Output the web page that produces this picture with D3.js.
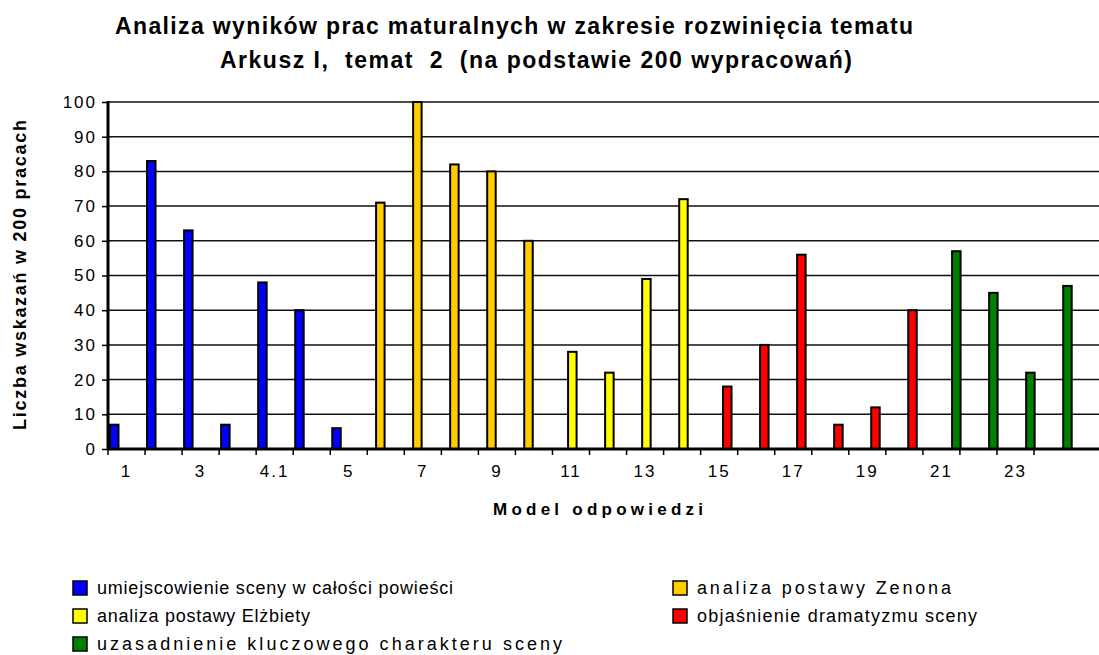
<!DOCTYPE html>
<html>
<head>
<meta charset="utf-8">
<script src="https://cdn.jsdelivr.net/npm/d3@7"></script>
<style>
  body { margin: 0; background: #fff; }
  svg { font-family: 'Liberation Sans', Arial, sans-serif; display: block; }
</style>
</head>
<body>
<div id="chart"></div>
<script>
// categories on the x axis (Model odpowiedzi)
const categories = ['1', '2', '3', '4', '4.1', '4.2', '5', '6', '7', '8', '9', '10', '11', '12',
  '13', '14', '15', '16', '17', '18', '19', '20', '21', '22', '23', '24']
const shownLabels = ['1', '3', '4.1', '5', '7', '9', '11', '13', '15', '17', '19', '21', '23']

const seriesNames = [
  'umiejscowienie sceny w całości powieści',
  'analiza postawy Zenona',
  'analiza postawy Elżbiety',
  'objaśnienie dramatyzmu sceny',
  'uzasadnienie kluczowego charakteru sceny'
]
const seriesColors = ['#0000ff', '#ffcc00', '#ffff00', '#ff0000', '#008000']

// values per series (only the categories each one covers)
const blueValues = { '1': 7, '2': 83, '3': 63, '4': 7, '4.1': 48, '4.2': 40, '5': 6 }
const orangeValues = { '6': 71, '7': 100, '8': 82, '9': 80, '10': 60 }
const yellowValues = { '11': 28, '12': 22, '13': 49, '14': 72 }
const redValues = { '15': 18, '16': 30, '17': 56, '18': 7, '19': 12, '20': 40 }
const greenValues = { '21': 57, '22': 45, '23': 22, '24': 47 }

const yTicks = [0, 10, 20, 30, 40, 50, 60, 70, 80, 90, 100]

const width = 1099
const height = 655
const margin = { top: 102, left: 108, right: 0, bottom: 206 }
const plotBottom = height - margin.bottom

const svg = d3.select('#chart')
  .append('svg')
  .attr('width', width)
  .attr('height', height)

// build the bar list
const bars = []
const allValues = [blueValues, orangeValues, yellowValues, redValues, greenValues]
allValues.forEach(function(vals, i) {
  Object.keys(vals).forEach(function(k) {
    bars.push({ cat: k, series: seriesNames[i], value: vals[k], color: seriesColors[i] })
  })
})

const xScale = d3.scaleBand()
  .domain(categories)
  .range([margin.left, margin.left + 26 * 37.04])

const xInner = d3.scaleBand()
  .domain(seriesNames)
  .range([2, 36])

const yScale = d3.scaleLinear()
  .domain([0, 100])
  .range([plotBottom, margin.top])

// gridlines
svg.append('g')
  .selectAll('line')
  .data(yTicks.slice(1))
  .enter()
  .append('line')
  .attr('x1', margin.left)
  .attr('x2', width)
  .attr('y1', d => yScale(d))
  .attr('y2', d => yScale(d))
  .attr('stroke', '#111')
  .attr('stroke-width', 1.5)

// bars
svg.append('g')
  .selectAll('rect')
  .data(bars)
  .enter()
  .append('rect')
  .attr('x', d => xScale(d.cat) + xInner(d.series))
  .attr('y', d => yScale(d.value))
  .attr('width', xInner.bandwidth() * 1.25)
  .attr('height', d => yScale(0) - yScale(d.value))
  .attr('fill', d => d.color)
  .attr('stroke', '#000')
  .attr('stroke-width', 2)

// y axis
const yAxis = d3.axisLeft(yScale)
  .tickValues(yTicks)
  .tickSize(6)
  .tickPadding(5)
svg.append('g')
  .attr('class', 'y-axis')
  .attr('transform', 'translate(' + margin.left + ',0)')
  .call(yAxis)
svg.selectAll('.y-axis path').remove()
svg.select('.y-axis').append('line')
  .attr('y1', margin.top - 1)
  .attr('y2', plotBottom + 1)
  .attr('stroke', '#000')
  .attr('stroke-width', 3)
svg.selectAll('.y-axis .tick line').attr('stroke', '#000').attr('stroke-width', 1.5)
svg.selectAll('.y-axis text')
  .attr('font-size', 17)
  .attr('letter-spacing', 2)
  .attr('fill', '#000')

// x axis: baseline, boundary ticks, labels every other category
svg.append('line')
  .attr('x1', margin.left)
  .attr('x2', width)
  .attr('y1', plotBottom)
  .attr('y2', plotBottom)
  .attr('stroke', '#000')
  .attr('stroke-width', 3)

svg.append('g')
  .selectAll('line')
  .data(categories)
  .enter()
  .append('line')
  .attr('x1', d => xScale(d))
  .attr('x2', d => xScale(d))
  .attr('y1', plotBottom)
  .attr('y2', plotBottom + 6)
  .attr('stroke', '#000')
  .attr('stroke-width', 1.5)

svg.append('g')
  .selectAll('text')
  .data(shownLabels)
  .enter()
  .append('text')
  .attr('x', d => xScale(d) + xScale.bandwidth() / 2)
  .attr('y', 477)
  .attr('text-anchor', 'middle')
  .attr('font-size', 17)
  .attr('letter-spacing', 2)
  .text(d => d)

// axis titles
svg.append('text')
  .attr('x', 493)
  .attr('y', 515)
  .attr('font-size', 17)
  .attr('font-weight', 'bold')
  .attr('textLength', 210)
  .attr('lengthAdjust', 'spacing')
  .text('Model odpowiedzi')

svg.append('text')
  .attr('transform', 'translate(26,430) rotate(-90)')
  .attr('font-size', 18)
  .attr('font-weight', 'bold')
  .attr('textLength', 310)
  .attr('lengthAdjust', 'spacing')
  .text('Liczba wskazań w 200 pracach')

// title
svg.append('text')
  .attr('x', 115)
  .attr('y', 34)
  .attr('font-size', 23)
  .attr('font-weight', 'bold')
  .attr('textLength', 798)
  .attr('lengthAdjust', 'spacing')
  .text('Analiza wyników prac maturalnych w zakresie rozwinięcia tematu')
svg.append('text')
  .attr('x', 220)
  .attr('y', 68)
  .attr('font-size', 23)
  .attr('font-weight', 'bold')
  .attr('textLength', 632)
  .attr('lengthAdjust', 'spacing')
  .style('white-space', 'pre')
  .text('Arkusz I,  temat  2  (na podstawie 200 wypracowań)')

// legend
const legendItems = [
  { name: seriesNames[0], color: seriesColors[0], x: 73, y: 588, len: 356 },
  { name: seriesNames[1], color: seriesColors[1], x: 673, y: 588, len: 254 },
  { name: seriesNames[2], color: seriesColors[2], x: 73, y: 616, len: 213 },
  { name: seriesNames[3], color: seriesColors[3], x: 673, y: 616, len: 280 },
  { name: seriesNames[4], color: seriesColors[4], x: 73, y: 644, len: 465 }
]
const legend = svg.append('g')
  .selectAll('g')
  .data(legendItems)
  .enter()
  .append('g')
  .attr('transform', d => 'translate(' + d.x + ',' + d.y + ')')
legend.append('rect')
  .attr('x', 0)
  .attr('y', -7)
  .attr('width', 14)
  .attr('height', 14)
  .attr('fill', d => d.color)
  .attr('stroke', '#000')
  .attr('stroke-width', 1.5)
legend.append('text')
  .attr('x', 24)
  .attr('y', 6)
  .attr('font-size', 18)
  .attr('textLength', d => d.len)
  .attr('lengthAdjust', 'spacing')
  .text(d => d.name)
</script>
</body>
</html>
